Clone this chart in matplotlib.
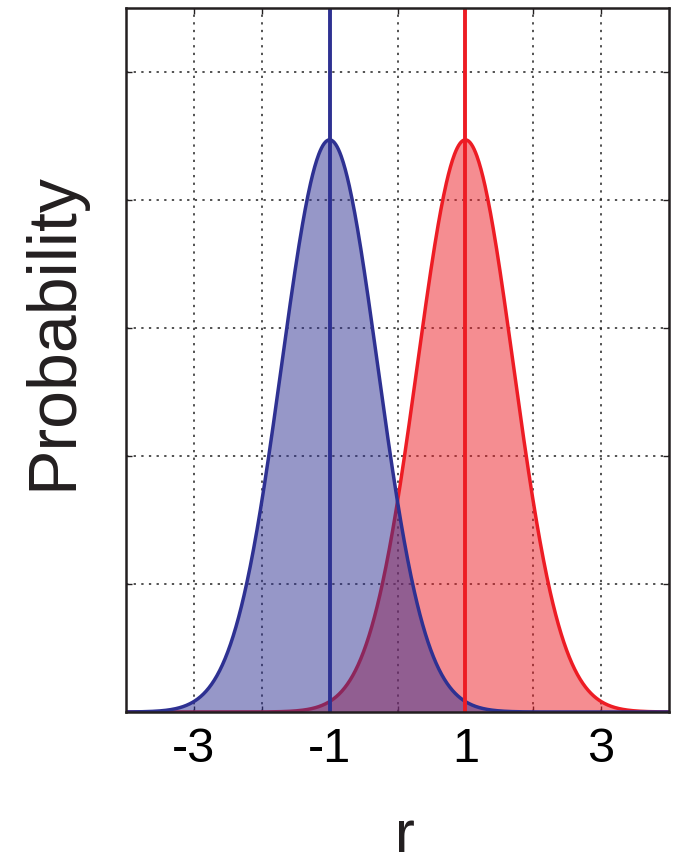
import numpy as np
import matplotlib
matplotlib.use("Agg")
import matplotlib.pyplot as plt

# Two normal curves
means = [-1.0, 1.0]
sigma = 0.707
peak = 0.447
line_colors = ["#2E3192", "#ED1C24"]

x_ticks = [-3, -2, -1, 0, 1, 2, 3]
x_tick_labels = ["-3", "", "-1", "", "1", "", "3"]
y_ticks = [0.1, 0.2, 0.3, 0.4, 0.5]

plt.rcParams['font.family'] = ['Liberation Sans', 'DejaVu Sans']

fig = plt.figure(figsize=(6.92, 8.64), dpi=100)
ax = fig.add_axes([126 / 692, 152 / 864, 543 / 692, 704 / 864])

x = np.linspace(-4, 4, 801)
curves = [peak * np.exp(-(x - m) ** 2 / (2 * sigma ** 2)) for m in means]

# red first, blue drawn over it (gives the purple overlap)
ax.fill_between(x, 0, curves[1], color=line_colors[1], alpha=0.5, lw=0, zorder=2)
ax.plot(x, curves[1], color=line_colors[1], lw=2.5, zorder=3)
ax.fill_between(x, 0, curves[0], color=line_colors[0], alpha=0.5, lw=0, zorder=4)
ax.plot(x, curves[0], color=line_colors[0], lw=2.5, zorder=5)
ax.axvline(means[0], color=line_colors[0], lw=2.8, zorder=6)
ax.axvline(means[1], color=line_colors[1], lw=2.8, zorder=6)

ax.set_xlim(-4, 4)
ax.set_ylim(0, 0.55)
ax.set_xticks(x_ticks)
ax.set_xticklabels(x_tick_labels)
ax.set_yticks(y_ticks)
ax.set_yticklabels([])
ax.grid(True, color="#222222", linestyle=(0, (1.5, 3.5)), lw=1.1, zorder=1)
ax.set_axisbelow(True)
ax.tick_params(direction="in", length=4, width=1, color="#231F20",
               labelsize=35, pad=11, top=True, right=True)
for s in ax.spines.values():
    s.set_color("#231F20")
    s.set_linewidth(1.8)
    s.set_zorder(10)

fig.text(53.5 / 692, (864 - 331) / 864, "Probability", rotation=90,
         ha="center", va="center", fontsize=49, color="#231F20")
fig.text(405 / 692, 0.0, "r", ha="center", va="bottom",
         fontsize=43, color="#231F20")

fig.savefig("out.png", dpi=100)
